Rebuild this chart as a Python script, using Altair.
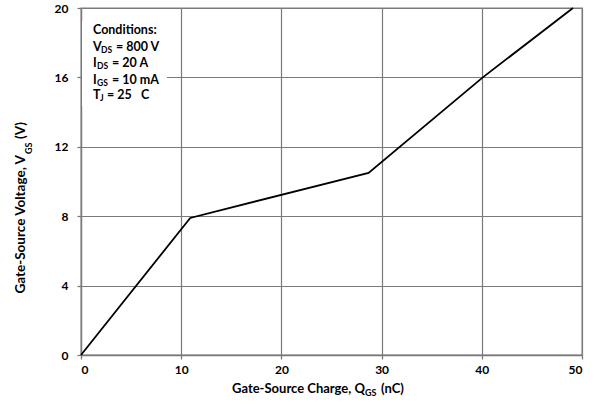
import altair as alt
import pandas as pd

# Gate charge curve: Q_GS (nC) vs V_GS (V)
charge_nc = [0.0, 10.9, 28.7, 40.1, 49.1]
gate_volts = [0.0, 7.9, 10.5, 16.0, 20.0]

x_ticks = [0, 10, 20, 30, 40, 50]
y_ticks = [0, 4, 8, 12, 16, 20]

FONT = "Lato"
NB = "\u00a0"

curve = pd.DataFrame({"q": charge_nc, "v": gate_volts})

# Axis titles built from pieces (main text plus subscripts), canvas pixels
titles = pd.DataFrame([
    dict(t="Gate-Source Charge, Q", px=365, py=389, s=13, a="right", ang=0),
    dict(t="GS", px=365, py=393, s=9, a="left", ang=0),
    dict(t="(nC)", px=381, py=389, s=13, a="left", ang=0),
    dict(t="Gate-Source Voltage, V", px=21, py=155, s=13.5, a="right", ang=270),
    dict(t="GS", px=29, py=154, s=9, a="left", ang=270),
    dict(t="(V)", px=21, py=139, s=13.5, a="left", ang=270),
])

# Test-condition block, plot-area pixels
cond = pd.DataFrame([
    dict(t="Conditions:", px=12, py=22, s=12.5, a="left", ang=0),
    dict(t="V", px=12, py=39, s=12.5, a="left", ang=0),
    dict(t="DS", px=20, py=42, s=8.5, a="left", ang=0),
    dict(t="= 800 V", px=35, py=39, s=12.5, a="left", ang=0),
    dict(t="I", px=12, py=55, s=12.5, a="left", ang=0),
    dict(t="DS", px=16, py=58, s=8.5, a="left", ang=0),
    dict(t="= 20 A", px=31, py=55, s=12.5, a="left", ang=0),
    dict(t="I", px=12, py=72, s=12.5, a="left", ang=0),
    dict(t="GS", px=16, py=75, s=8.5, a="left", ang=0),
    dict(t="= 10 mA", px=31, py=72, s=12.5, a="left", ang=0),
    dict(t="T", px=12, py=87, s=12.5, a="left", ang=0),
    dict(t="J", px=19, py=90, s=8.5, a="left", ang=0),
    dict(t="= 25" + NB * 3 + "C", px=26, py=87, s=12.5, a="left", ang=0),
])

x_scale = alt.Scale(domain=[0, 50], nice=False, zero=False)
y_scale = alt.Scale(domain=[0, 20], nice=False, zero=False)

axis_common = dict(
    title=None,
    labelFont=FONT,
    labelFontSize=12,
    labelFontWeight="bold",
    labelColor="#000000",
    domainColor="#7a7a7a",
    domainWidth=1.3,
    gridColor="#7a7a7a",
    gridWidth=1.2,
    gridOpacity=1,
    tickColor="#7a7a7a",
    tickWidth=1.3,
    tickSize=4,
)

line = alt.Chart(curve).mark_line(color="#000000", strokeWidth=1.8).encode(
    x=alt.X("q:Q", scale=x_scale,
            axis=alt.Axis(values=x_ticks, labelPadding=5, **axis_common)),
    y=alt.Y("v:Q", scale=y_scale,
            axis=alt.Axis(values=y_ticks, labelPadding=9, **axis_common)),
)

# White panel behind the conditions block
panel = alt.Chart(pd.DataFrame({"k": [0]})).mark_rect(color="white").encode(
    x=alt.value(1), x2=alt.value(86), y=alt.value(13), y2=alt.value(98)
)


def pieces(df):
    layers = []
    for (a, ang), grp in df.groupby(["a", "ang"]):
        layers.append(
            alt.Chart(grp).mark_text(
                font=FONT, fontWeight="bold", color="#000000",
                baseline="middle", align=a, angle=float(ang),
            ).encode(
                x=alt.X("px:Q", scale=None),
                y=alt.Y("py:Q", scale=None),
                text="t:N",
                size=alt.Size("s:Q", scale=None, legend=None),
            )
        )
    return layers


# title pieces are given in canvas pixels; shift them into plot-area space
PAD_L, PAD_T = 81, 8
titles = titles.assign(px=titles.px - PAD_L, py=titles.py - PAD_T)

chart = alt.layer(
    line, panel, *pieces(cond), *pieces(titles)
).properties(
    width=501,
    height=347,
    autosize=alt.AutoSizeParams(type="none"),
    padding={"left": PAD_L, "top": PAD_T, "right": 14, "bottom": 49},
    background="white",
).configure_view(
    stroke="#7a7a7a", strokeWidth=1.3
)

chart.save("out.html", embed_options={"renderer": "svg", "actions": False})
